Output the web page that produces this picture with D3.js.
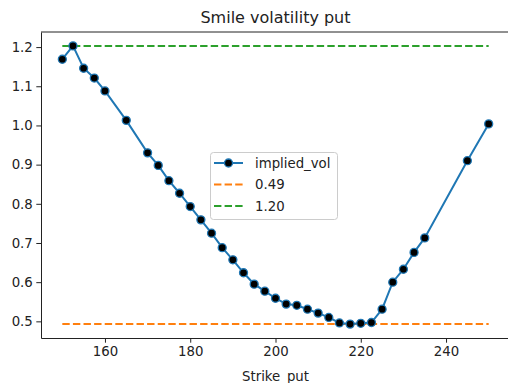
<!DOCTYPE html>
<html>
<head>
<meta charset="utf-8">
<script src="https://cdn.jsdelivr.net/npm/d3@7"></script>
<style>
  body { margin: 0; background: #fff; }
  svg { display: block; font-family: "DejaVu Sans", sans-serif; }
</style>
</head>
<body>
<svg id="chart" width="508" height="383"></svg>
<script>
// strikes and implied vol
const strikes = [150, 152.5, 155, 157.5, 160, 165, 170, 172.5, 175, 177.5, 180, 182.5, 185, 187.5, 190, 192.5, 195, 197.5,
  200, 202.5, 205, 207.5, 210, 212.5, 215, 217.5, 220, 222.5, 225, 227.5, 230, 232.5, 235, 245, 250];
const impliedVol = [1.169, 1.203, 1.146, 1.121, 1.088, 1.013, 0.930, 0.898, 0.859, 0.827, 0.793, 0.759, 0.725, 0.688, 0.657, 0.624, 0.595, 0.577,
  0.559, 0.544, 0.541, 0.531, 0.521, 0.510, 0.496, 0.493, 0.495, 0.497, 0.531, 0.600, 0.633, 0.676, 0.713, 0.910, 1.004];
const xTicks = [160, 180, 200, 220, 240];
const yTicks = [0.5, 0.6, 0.7, 0.8, 0.9, 1.0, 1.1, 1.2];

const volMin = d3.min(impliedVol);
const volMax = d3.max(impliedVol);

const margin = { top: 32, right: -2, bottom: 45, left: 41 };
const width = 508;
const height = 383;

const svg = d3.select('#chart');

// matplotlib-ish 5% padding
const xPad = (d3.max(strikes) - d3.min(strikes)) * 0.05;
const yPad = (volMax - volMin) * 0.05;
const x = d3.scaleLinear()
  .domain([d3.min(strikes) - xPad, d3.max(strikes) + xPad])
  .range([margin.left, width - margin.right]);
const y = d3.scaleLinear()
  .domain([volMin - yPad, volMax + yPad])
  .range([height - margin.bottom, margin.top]);

const blue = '#1f77b4';
const orange = '#ff7f0e';
const green = '#2ca02c';

// horizontal min / max lines
const hLines = [{ v: volMin, c: orange }, { v: volMax, c: green }];
svg.append('g')
  .selectAll('line')
  .data(hLines)
  .join('line')
  .attr('x1', x(d3.min(strikes)))
  .attr('x2', x(d3.max(strikes)))
  .attr('y1', (d) => y(d.v))
  .attr('y2', (d) => y(d.v))
  .attr('stroke', (d) => d.c)
  .attr('stroke-width', 2)
  .attr('stroke-dasharray', '7.4,3.2');

const pts = strikes.map((s, i) => [s, impliedVol[i]]);
svg.append('path')
  .datum(pts)
  .attr('fill', 'none')
  .attr('stroke', blue)
  .attr('stroke-width', 2)
  .attr('d', d3.line().x((d) => x(d[0])).y((d) => y(d[1])));

svg.append('g')
  .selectAll('circle')
  .data(pts)
  .join('circle')
  .attr('cx', (d) => x(d[0]))
  .attr('cy', (d) => y(d[1]))
  .attr('r', 4)
  .attr('fill', '#000')
  .attr('stroke', blue)
  .attr('stroke-width', 1.3);

// axes
const xAxis = svg.append('g')
  .attr('transform', `translate(0,${height - margin.bottom})`)
  .call(d3.axisBottom(x).tickValues(xTicks).tickSize(4.7).tickPadding(4).tickSizeOuter(0));
const yAxis = svg.append('g')
  .attr('transform', `translate(${margin.left},0)`)
  .call(d3.axisLeft(y).tickValues(yTicks).tickFormat(d3.format('.1f')).tickSize(4.7).tickPadding(3.5).tickSizeOuter(0));
[xAxis, yAxis].forEach((g) => {
  g.selectAll('text').attr('font-size', 13.3).attr('fill', '#222').attr('font-family', 'DejaVu Sans');
  g.selectAll('line').attr('stroke', '#222');
  g.select('.domain').attr('stroke', '#222');
});

// top spine
svg.append('line')
  .attr('x1', margin.left).attr('x2', width - margin.right)
  .attr('y1', margin.top).attr('y2', margin.top)
  .attr('stroke', '#222');

svg.append('text')
  .attr('x', (margin.left + width - margin.right) / 2)
  .attr('y', 23)
  .attr('text-anchor', 'middle')
  .attr('font-size', 16)
  .attr('fill', '#222')
  .text('Smile volatility put');

svg.append('text')
  .attr('x', (margin.left + width - margin.right) / 2)
  .attr('y', 381)
  .attr('text-anchor', 'middle')
  .attr('font-size', 13.3)
  .attr('fill', '#222')
  .text('Strike_put');

// legend
const legend = svg.append('g').attr('transform', 'translate(210,152)');
legend.append('rect')
  .attr('x', 0.5).attr('y', 0.5)
  .attr('width', 127).attr('height', 67)
  .attr('rx', 3)
  .attr('fill', '#fff')
  .attr('fill-opacity', 0.8)
  .attr('stroke', '#ccc');
const legendItems = [
  { label: 'implied_vol', c: blue, dash: null, marker: true },
  { label: volMin.toFixed(2), c: orange, dash: '7.4,3.2', marker: false },
  { label: volMax.toFixed(2), c: green, dash: '7.4,3.2', marker: false },
];
const item = legend.selectAll('g')
  .data(legendItems)
  .join('g')
  .attr('transform', (d, i) => `translate(0,${11 + i * 21.5})`);
item.append('line')
  .attr('x1', 4).attr('x2', 33)
  .attr('stroke', (d) => d.c)
  .attr('stroke-width', 2)
  .attr('stroke-dasharray', (d) => d.dash);
item.filter((d) => d.marker).append('circle')
  .attr('cx', 18.5)
  .attr('r', 4)
  .attr('fill', '#000')
  .attr('stroke', blue)
  .attr('stroke-width', 1.3);
item.append('text')
  .attr('x', 45)
  .attr('dy', '0.35em')
  .attr('font-size', 13.3)
  .attr('fill', '#222')
  .text((d) => d.label);
</script>
</body>
</html>
